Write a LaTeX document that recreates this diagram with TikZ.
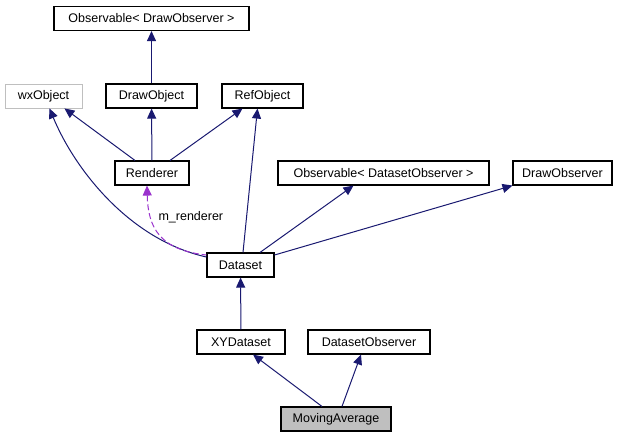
\documentclass[tikz,border=0pt]{standalone}
\usepackage{fontspec}
\setmainfont{Liberation Sans}
\usepackage{tikz}
\usetikzlibrary{arrows.meta,positioning}
\definecolor{edgeblue}{RGB}{25,25,112}
\definecolor{usepurple}{RGB}{154,50,205}
\definecolor{boxgray}{RGB}{191,191,191}
\begin{document}
\begin{tikzpicture}[x=1pt,y=-1pt,
  >={Triangle[length=10pt,width=9pt]},
  class node/.style={draw, line width=1.1pt, rectangle, minimum height=24pt, inner sep=0pt, font=\fontsize{12.5}{14}\selectfont},
  ext node/.style={class node, draw=gray!50, line width=0.9pt},
  inherit/.style={<-, edgeblue, line width=1pt},
  uses/.style={<-, usepurple, line width=1pt, dash pattern=on 6pt off 3pt}]
  \useasboundingbox (0,0) rectangle (625,437);

  \node[class node, minimum width=195pt] (obsdraw) at (151.5,18.5) {Observable< DrawObserver >};
  \node[ext node, minimum width=77pt] (wxobj) at (43.5,96) {wxObject};
  \node[class node, minimum width=91pt] (drawobj) at (151.5,96) {DrawObject};
  \node[class node, minimum width=81pt] (refobj) at (262.5,96) {RefObject};
  \node[class node, minimum width=74pt] (renderer) at (152,173) {Renderer};
  \node[class node, minimum width=211pt] (obsdata) at (383.5,173) {Observable< DatasetObserver >};
  \node[class node, minimum width=99pt] (drawobs) at (562.5,173) {DrawObserver};
  \node[class node, minimum width=67pt] (dataset) at (240.5,265) {Dataset};
  \node[class node, minimum width=88pt] (xydata) at (241,342) {XYDataset};
  \node[class node, minimum width=122pt] (dataobs) at (369,342) {DatasetObserver};
  \node[class node, minimum width=110pt, fill=boxgray] (movavg) at (336,419) {MovingAverage};

  \path[inherit]
  (obsdraw) edge (drawobj)
  (drawobj) edge (renderer)
  (wxobj.south east) ++(-18,0) coordinate (wxa) (wxa) edge (renderer.north west -| 135,0)
  (refobj.south) ++(-20,0) coordinate (refa) (refa) edge (renderer.north east -| 170,0)
  (refobj.south) ++(-5,0) coordinate (refb) (refb) edge (dataset.north -| 243,0)
  (obsdata.south) ++(-30,0) coordinate (obsa) (obsa) edge (dataset.north -| 260,0)
  (drawobs.south) ++(-50,0) coordinate (drawa) (drawa) edge (dataset.north east |- 0,255)
  (dataset) edge (xydata)
  (xydata.south) ++(12,0) coordinate (xya) (xya) edge (movavg.north -| 322,0)
  (dataobs.south) ++(-8,0) coordinate (doa) (doa) edge (movavg.north -| 342,0);

  \draw[inherit] (wxobj.south) ++(6,0) .. controls (75,170) and (130,240) .. (dataset.west |- 0,257);
  \draw[uses] (renderer.south) ++(-5,0) .. controls (148,228) and (160,250) .. (dataset.west |- 0,255);
  \node[anchor=west, font=\fontsize{12.5}{14}\selectfont] (rlabel) at (155,217) {m\_renderer};
\end{tikzpicture}
\end{document}
